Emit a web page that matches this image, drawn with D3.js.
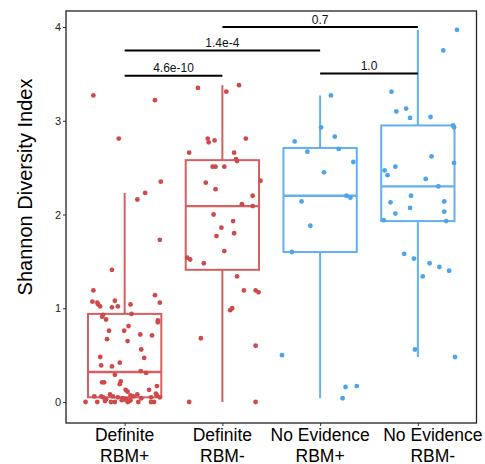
<!DOCTYPE html>
<html>
<head>
<meta charset="utf-8">
<script src="https://cdn.jsdelivr.net/npm/d3@7"></script>
<style>
  html, body { margin: 0; padding: 0; background: #fff; }
  svg { display: block; font-family: "Liberation Sans", Arial, sans-serif; }
</style>
</head>
<body>
<svg id="chart" width="485" height="464"></svg>
<script>
// Groups along the x axis
const categories = ["Definite RBM+", "Definite RBM-", "No Evidence RBM+", "No Evidence RBM-"];
const labelLines = [["Definite", "RBM+"], ["Definite", "RBM-"], ["No Evidence", "RBM+"], ["No Evidence", "RBM-"]];
const groupColor = ["red", "red", "blue", "blue"];

// Box summaries per group
const whiskerLow  = [0.00, 0.00, 0.04, 0.48];
const q1          = [0.05, 1.41, 1.60, 1.93];
const median      = [0.32, 2.09, 2.20, 2.30];
const q3          = [0.94, 2.58, 2.71, 2.95];
const whiskerHigh = [2.23, 3.38, 3.27, 3.97];

// Individual samples: Shannon index and horizontal jitter (category units)
const defPosValues = [3.27, 3.22, 2.81, 2.35, 2.23, 2.16, 1.73, 1.41, 1.19, 1.07, 1.06, 1.04, 1.02, 1.08, 1.01, 1.02, 1.04, 1.14, 1.06, 0.94,
  0.93, 0.91, 0.88, 0.87, 0.85, 0.81, 0.76, 0.76, 0.72, 0.71, 0.67, 0.65, 0.56, 0.48, 0.47, 0.42, 0.39, 0.38, 0.33, 0.31,
  0.29, 0.21, 0.21, 0.22, 0.19, 0.17, 0.13, 0.11, 0.13, 0.09, 0.07, 0.07, 0.08, 0.08, 0.06, 0.06, 0.05, 0.03, 0.06, 0.05,
  0.035, 0.03, 0.02, 0.04, 0.05, 0.05, 0.00, 0.00, 0.01, 0.00, 0.00, 0.02, 0.00, 0.01, 0.00, 0.00, 0.00, 0.06, 0.04];
const defPosJitter = [-0.32, 0.31, -0.06, 0.37, 0.21, 0.13, 0.36, -0.13, -0.32, -0.33, -0.28, -0.27, -0.25, -0.10, -0.13, -0.07, 0.06, 0.31, 0.36, 0.07,
  -0.22, -0.23, -0.19, 0.34, 0.34, 0.04, -0.16, -0.005, 0.16, 0.28, -0.18, 0.03, 0.17, -0.25, 0.20, -0.05, -0.24, -0.13, 0.165, 0.22,
  -0.10, -0.23, -0.21, -0.04, -0.05, 0.33, 0.01, 0.03, 0.25, 0.32, 0.33, 0.06, 0.13, -0.15, -0.24, -0.31, -0.22, -0.19, -0.12, -0.07,
  -0.01, 0.02, 0.06, 0.17, 0.27, 0.36, -0.40, -0.28, -0.20, -0.14, -0.10, -0.03, 0.03, 0.05, 0.14, 0.27, 0.30, 0.09, -0.02];

const defNegValues = [3.35, 3.38, 3.31, 2.81, 2.77, 2.79, 2.81, 2.66, 2.66, 2.59, 2.57, 2.51, 2.51, 2.51, 2.36, 2.34, 2.27, 2.20, 2.11, 2.09,
  2.00, 1.93, 1.86, 1.80, 1.77, 1.61, 1.54, 1.52, 1.48, 1.34, 1.19, 1.19, 1.17, 0.98, 1.00, 0.68, 0.60, 0.00, 0.00];
const defNegJitter = [-0.25, 0.17, 0.04, -0.15, -0.14, -0.08, 0.24, -0.34, 0.12, 0.14, 0.15, -0.10, -0.07, 0.02, 0.39, -0.17, -0.07, 0.31, 0.20, 0.31,
  -0.09, 0.11, -0.01, 0.12, -0.06, 0.02, -0.36, -0.33, -0.19, 0.15, 0.22, 0.34, 0.37, 0.08, 0.10, -0.22, 0.34, -0.34, 0.34];

const nePosValues = [3.27, 2.93, 2.78, 2.83, 2.70, 2.67, 2.56, 2.45, 2.20, 2.18, 2.14, 1.88, 1.60, 0.50, 0.16, 0.17, 0.04];
const nePosJitter = [0.11, 0.01, -0.26, 0.15, 0.19, -0.13, 0.34, 0.04, 0.27, 0.31, -0.19, -0.10, -0.29, -0.39, 0.26, 0.375, 0.23];

const neNegValues = [3.97, 3.75, 3.31, 3.10, 3.13, 3.03, 3.04, 2.95, 2.93, 2.62, 2.55, 2.47, 2.42, 2.51, 2.38, 2.30, 2.20, 2.13, 2.14, 2.07,
  2.01, 2.03, 1.94, 1.93, 1.58, 1.53, 1.48, 1.44, 1.40, 1.34, 0.56, 0.48];
const neNegJitter = [0.40, 0.26, -0.27, -0.22, -0.12, -0.08, 0.13, 0.36, 0.37, 0.14, 0.37, -0.34, -0.31, -0.23, 0.08, 0.21, -0.07, -0.28, 0.27, -0.08,
  -0.23, 0.27, -0.35, 0.29, -0.14, -0.04, 0.12, 0.22, 0.32, 0.05, -0.03, 0.38];

const groupValues = [defPosValues, defNegValues, nePosValues, neNegValues];
const groupJitter = [defPosJitter, defNegJitter, nePosJitter, neNegJitter];

// Pairwise comparisons (1-based group indices), p-values and bracket heights
const compareFrom = [1, 3, 1, 2];
const compareTo   = [2, 4, 3, 4];
const compareLabel = ["4.6e-10", "1.0", "1.4e-4", "0.7"];
const compareY    = [3.48, 3.505, 3.75, 4.00];

const yTicks = [0, 1, 2, 3, 4];

const palette = {
  red:  { point: "#cf4a4b", line: "#d55f61" },
  blue: { point: "#4ba4ec", line: "#64b0ef" }
};

const svg = d3.select("#chart");
const panel = { left: 66, right: 476.5, top: 11, bottom: 423 };

const x = d3.scaleLinear().domain([0.4, 4.6]).range([panel.left, panel.right]);
const y = d3.scaleLinear().domain([-0.224, 4.171]).range([panel.bottom, panel.top]);
const boxHalf = 0.375;

// Axes
const yAxis = d3.axisLeft(y).tickValues(yTicks).tickSize(3).tickPadding(2).tickFormat(d3.format("d"));
const gy = svg.append("g").attr("transform", `translate(${panel.left},0)`).call(yAxis);
gy.select(".domain").remove();
gy.selectAll("text").attr("font-size", 11).attr("fill", "#222");
gy.selectAll("line").attr("stroke", "#333");

const xAxis = d3.axisBottom(x).tickValues([1, 2, 3, 4]).tickSize(3).tickFormat("");
const gx = svg.append("g").attr("transform", `translate(0,${panel.bottom})`).call(xAxis);
gx.select(".domain").remove();
gx.selectAll("line").attr("stroke", "#333");

// Two-line category labels
const xl = svg.append("g").attr("font-size", 17.5).attr("fill", "#000").attr("text-anchor", "middle");
labelLines.forEach((lines, i) => {
  const cx = x(i + 1) + (i === 3 ? 15 : 0);
  const t = xl.append("text").attr("x", cx).attr("y", 440.5);
  lines.forEach((ln, k) => {
    t.append("tspan").attr("x", cx).attr("dy", k === 0 ? 0 : 21).text(ln);
  });
});

// Y title
svg.append("text")
  .attr("transform", "translate(32,187) rotate(-90)")
  .attr("text-anchor", "middle")
  .attr("font-size", 20)
  .attr("fill", "#000")
  .text("Shannon Diversity Index");

// Box plots
const boxes = svg.append("g");
categories.forEach((c, i) => {
  const col = palette[groupColor[i]];
  const g = boxes.append("g").attr("stroke", col.line).attr("stroke-width", 2).attr("fill", "none");
  const cx = x(i + 1);
  g.append("line").attr("x1", cx).attr("x2", cx).attr("y1", y(q3[i])).attr("y2", y(whiskerHigh[i]));
  g.append("line").attr("x1", cx).attr("x2", cx).attr("y1", y(q1[i])).attr("y2", y(whiskerLow[i]));
  g.append("rect")
    .attr("x", x(i + 1 - boxHalf)).attr("width", x(i + 1 + boxHalf) - x(i + 1 - boxHalf))
    .attr("y", y(q3[i])).attr("height", y(q1[i]) - y(q3[i]));
  g.append("line").attr("x1", x(i + 1 - boxHalf)).attr("x2", x(i + 1 + boxHalf))
    .attr("y1", y(median[i])).attr("y2", y(median[i])).attr("stroke-width", 2.3);
});

// Jittered samples
const pts = svg.append("g");
groupValues.forEach((vals, i) => {
  const col = palette[groupColor[i]];
  pts.selectAll(null)
    .data(vals.map((v, k) => ({ v, j: groupJitter[i][k] })))
    .join("circle")
    .attr("cx", d => x(i + 1 + d.j))
    .attr("cy", d => y(d.v))
    .attr("r", 2.4)
    .attr("fill", col.point);
});

// Significance brackets
const sig = svg.append("g");
compareLabel.forEach((lab, k) => {
  const x1 = x(compareFrom[k]), x2 = x(compareTo[k]), yy = y(compareY[k]);
  sig.append("line").attr("x1", x1).attr("x2", x2).attr("y1", yy).attr("y2", yy)
    .attr("stroke", "#000").attr("stroke-width", 2);
  sig.append("text").attr("x", (x1 + x2) / 2).attr("y", yy - 3.5)
    .attr("text-anchor", "middle").attr("font-size", 12).attr("fill", "#111").text(lab);
});

// Panel frame
svg.append("rect")
  .attr("x", panel.left).attr("y", panel.top)
  .attr("width", panel.right - panel.left).attr("height", panel.bottom - panel.top)
  .attr("fill", "none").attr("stroke", "#222").attr("stroke-width", 1.3);
</script>
</body>
</html>
